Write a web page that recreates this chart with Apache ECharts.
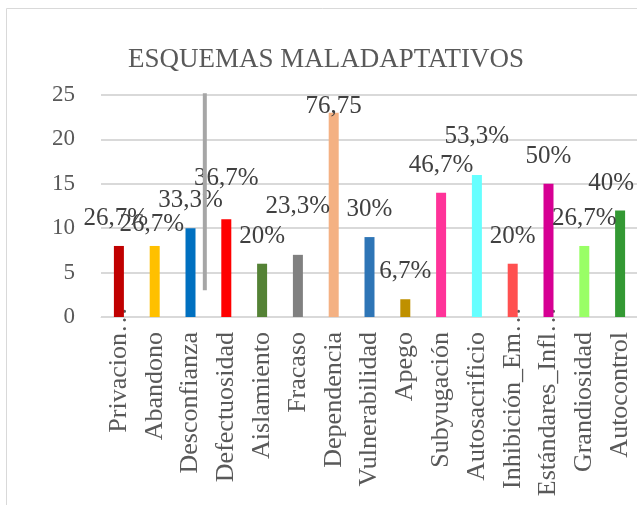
<!DOCTYPE html>
<html>
<head>
<meta charset="utf-8">
<script src="https://cdn.jsdelivr.net/npm/echarts@6/dist/echarts.min.js"></script>
<style>
  html, body { margin: 0; padding: 0; background: #fff; }
  #chart { width: 637px; height: 505px; }
</style>
</head>
<body>
<div id="chart"></div>
<script>
// datos del gráfico
const categorias = ["Privacion…", "Abandono", "Desconfianza", "Defectuosidad", "Aislamiento", "Fracaso", "Dependencia",
  "Vulnerabilidad", "Apego", "Subyugación", "Autosacrificio", "Inhibición_Em…", "Estándares_Infl…", "Grandiosidad", "Autocontrol"];
const valores = [8, 8, 10, 11, 6, 7, 23, 9, 2, 14, 16, 6, 15, 8, 12];
const etiquetas = ["26,7%", "26,7%", "33,3%", "36,7%", "20%", "23,3%", "76,75", "30%", "6,7%", "46,7%", "53,3%", "20%", "50%", "26,7%", "40%"];
const colores = ["#C00000", "#FFC000", "#0070C0", "#FF0000", "#548235", "#808080", "#F4B183", "#2E75B6", "#BF9000",
  "#FF3399", "#66FFFF", "#FF5050", "#D60093", "#99FF66", "#339933"];
// línea gris suelta (x en bandas de categoría, y en valores)
const lineaGris = [[2.9, 25.2], [2.9, 3]];

// desplazamiento manual de las etiquetas [dx, dy]
const ajusteEtiqueta = [[-3, 0], [-3, 6], [0, 0], [0, -13], [0, 0], [0, -21], [0, 21], [0, 0], [0, 0], [0, 0],
  [0, -11], [0, 0], [0, 0], [0, 0], [-9, 0]];

const fuente = "'Liberation Serif', 'Times New Roman', serif";

// las etiquetas recortadas dejan los puntos suspensivos pegados al eje (como Excel)
const datosEje = categorias.map(c => c.endsWith("…") ? { value: c, textStyle: { padding: 0 } } : c);

const chart = echarts.init(document.getElementById("chart"));
chart.setOption({
  animation: false,
  title: {
    text: "ESQUEMAS MALADAPTATIVOS",
    left: 321, top: 41, textAlign: "center",
    textStyle: { fontFamily: fuente, fontSize: 27, fontWeight: "normal", color: "#595959" }
  },
  graphic: [{
    type: "rect", shape: { x: 6.5, y: 8.5, width: 700, height: 600 },
    style: { fill: "none", stroke: "#d9d9d9", lineWidth: 1 }, silent: true
  }],
  grid: { left: 101, right: -1, top: 95, bottom: 188, outerBoundsMode: "none", containLabel: false },
  xAxis: [{
    type: "category",
    data: datosEje,
    axisLine: { lineStyle: { color: "#d9d9d9", width: 1 } },
    axisTick: { show: false },
    axisLabel: {
      rotate: 90, interval: 0, margin: -10, padding: [0, 25, 0, 0],
      fontFamily: fuente, fontSize: 26, color: "#595959"
    }
  }, {
    type: "value", min: 0, max: 15, show: false
  }],
  yAxis: {
    type: "value", min: 0, max: 25, interval: 5,
    axisLine: { show: false },
    axisTick: { show: false },
    splitLine: { lineStyle: { color: "#d9d9d9", width: 2 } },
    axisLabel: { margin: 26, fontFamily: fuente, fontSize: 23, color: "#595959" }
  },
  series: [{
    type: "bar",
    barWidth: 10,
    data: valores.map((v, i) => ({
      value: v,
      itemStyle: { color: colores[i] },
      label: { offset: ajusteEtiqueta[i] }
    })),
    label: {
      show: true, position: "top", distance: 15,
      formatter: p => etiquetas[p.dataIndex],
      fontFamily: fuente, fontSize: 25, color: "#404040"
    }
  }, {
    type: "line",
    xAxisIndex: 1,
    data: lineaGris,
    symbol: "none",
    lineStyle: { color: "#a6a6a6", width: 4 },
    z: 5
  }]
});
</script>
</body>
</html>
